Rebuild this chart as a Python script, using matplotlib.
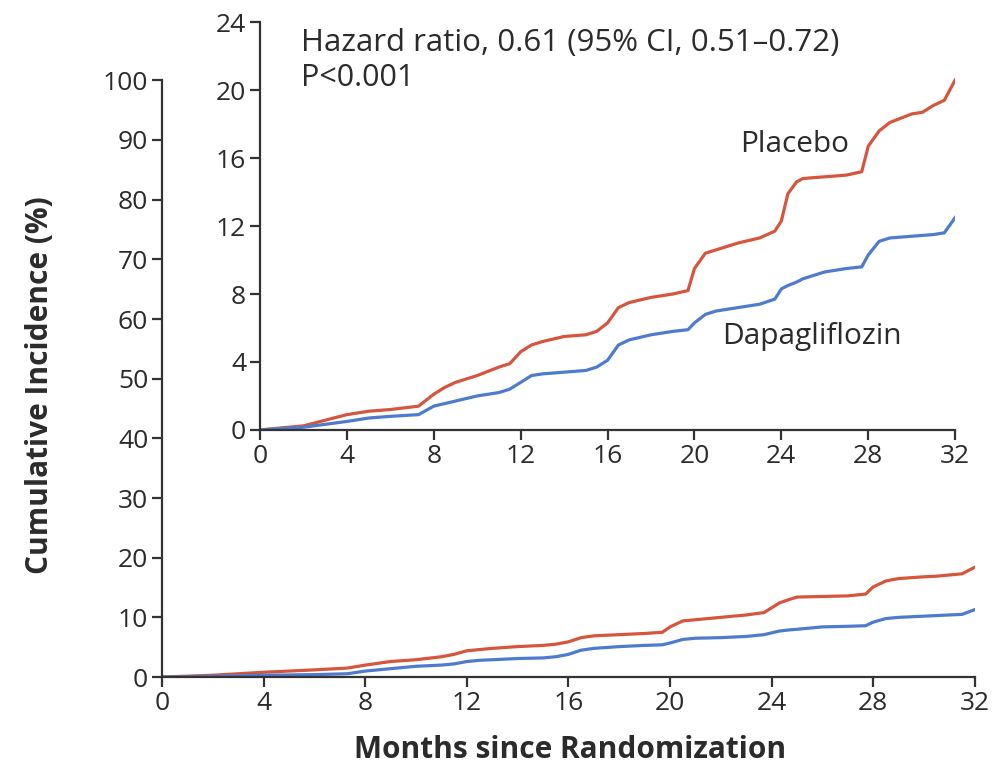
import numpy as np
import matplotlib
matplotlib.use('Agg')
import matplotlib.pyplot as plt

plt.rcParams['font.family'] = ['Open Sans', 'DejaVu Sans']

# months grid shared by both panels
months = [0, 2, 4, 5, 6, 7.3, 8, 8.5, 9, 10, 11, 11.5, 12, 12.5, 13, 14, 15, 15.5,
          16, 16.5, 17, 18, 19, 19.7, 20, 20.5, 21, 22, 23, 23.7, 24, 24.3, 24.7,
          25, 26, 27, 27.7, 28, 28.5, 29, 30, 30.5, 31, 31.5, 32]

# cumulative incidence (%)
placebo_inset = [0, 0.24, 0.9, 1.1, 1.2, 1.4, 2.1, 2.5, 2.8, 3.2, 3.7, 3.9, 4.6, 5.0, 5.2,
                 5.5, 5.6, 5.8, 6.3, 7.2, 7.5, 7.8, 8.0, 8.2, 9.5, 10.4, 10.6, 11.0, 11.3,
                 11.7, 12.3, 13.9, 14.6, 14.8, 14.9, 15.0, 15.2, 16.7, 17.6, 18.1, 18.6,
                 18.7, 19.1, 19.4, 20.6]
dapa_inset = [0, 0.16, 0.5, 0.7, 0.8, 0.9, 1.4, 1.55, 1.7, 2.0, 2.2, 2.4, 2.8, 3.2, 3.3,
              3.4, 3.5, 3.7, 4.1, 5.0, 5.3, 5.6, 5.8, 5.9, 6.3, 6.8, 7.0, 7.2, 7.4, 7.7,
              8.3, 8.5, 8.7, 8.9, 9.3, 9.5, 9.6, 10.3, 11.1, 11.3, 11.4, 11.45, 11.5,
              11.6, 12.5]

# cumulative incidence (%)
placebo_main = [0, 0.3, 0.8, 1.0, 1.2, 1.5, 2.0, 2.3, 2.6, 2.9, 3.4, 3.8, 4.4, 4.6, 4.8,
                5.1, 5.3, 5.5, 5.9, 6.6, 6.9, 7.1, 7.3, 7.5, 8.4, 9.4, 9.6, 10.0, 10.4,
                10.8, 11.6, 12.4, 13.0, 13.4, 13.5, 13.6, 13.9, 15.1, 16.1, 16.5, 16.8,
                16.9, 17.1, 17.3, 18.4]
dapa_main = [0, 0.1, 0.3, 0.35, 0.4, 0.55, 1.0, 1.2, 1.4, 1.8, 2.0, 2.2, 2.6, 2.8, 2.9,
             3.1, 3.2, 3.4, 3.8, 4.5, 4.8, 5.1, 5.3, 5.4, 5.7, 6.3, 6.5, 6.6, 6.8, 7.1,
             7.4, 7.7, 7.9, 8.0, 8.4, 8.5, 8.6, 9.2, 9.8, 10.0, 10.2, 10.3, 10.4, 10.5,
             11.3]

red = '#d6553d'
blue = '#4f7bcf'
ink = '#2b2b2b'
tick_kw = dict(labelsize=19, length=7, width=1.6, pad=3, colors='#333333', labelcolor=ink)


def style(a):
    a.spines['top'].set_visible(False)
    a.spines['right'].set_visible(False)
    for s in ['left', 'bottom']:
        a.spines[s].set_linewidth(1.6)
        a.spines[s].set_color('#333333')
    a.tick_params(**tick_kw)


fig = plt.figure(figsize=(9.96, 7.65), dpi=100)

# main panel
ax = fig.add_axes([0.1627, 0.115, 0.816, 0.780])
ax.plot(months, placebo_main, color=red, lw=2.3)
ax.plot(months, dapa_main, color=blue, lw=2.3)
ax.set_xlim(0, 32)
ax.set_ylim(0, 100)
ax.set_xticks(range(0, 33, 4))
ax.set_yticks(range(0, 101, 10))
style(ax)
ax.set_ylabel('Cumulative Incidence (%)', fontsize=21.5, fontweight='bold', color=ink)
ax.set_xlabel('Months since Randomization', fontsize=21.5, fontweight='bold', color=ink)
ax.yaxis.set_label_coords(-0.132, 0.489)
ax.xaxis.set_label_coords(0.502, -0.097)

# inset
ins = fig.add_axes([0.261, 0.438, 0.698, 0.533])
ins.plot(months, placebo_inset, color=red, lw=2.3)
ins.plot(months, dapa_inset, color=blue, lw=2.3)
ins.set_xlim(0, 32)
ins.set_ylim(0, 24)
ins.set_xticks(range(0, 33, 4))
ins.set_yticks(range(0, 25, 4))
style(ins)

ins.text(1.9, 22.8, 'Hazard ratio, 0.61 (95% CI, 0.51\u20130.72)', fontsize=22.5,
         color=ink, va='center', ha='left')
ins.text(1.9, 20.7, 'P<0.001', fontsize=22, color=ink, va='center', ha='left')
ins.text(24.6, 16.8, 'Placebo', fontsize=21.5, color=ink, va='center', ha='center')
ins.text(25.4, 5.5, 'Dapagliflozin', fontsize=21.5, color=ink, va='center', ha='center')

fig.savefig('out.png', dpi=100)
